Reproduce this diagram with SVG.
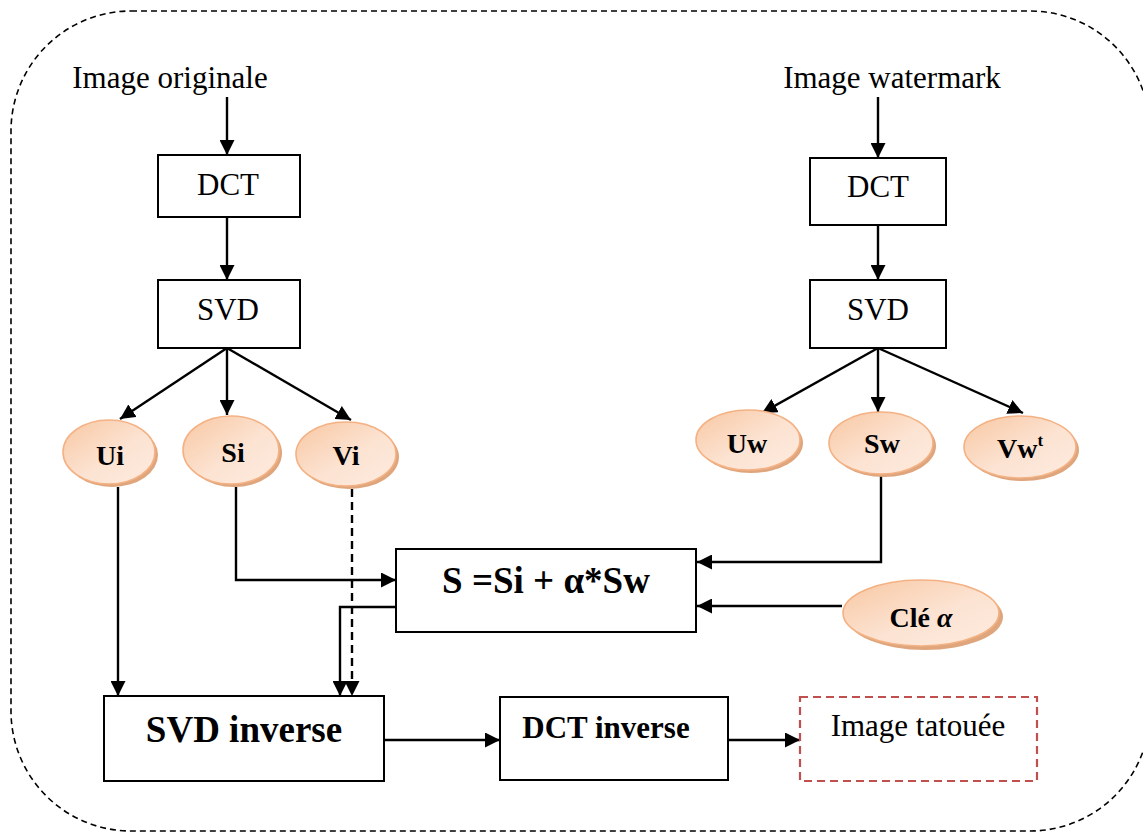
<svg xmlns="http://www.w3.org/2000/svg" width="1143" height="834" viewBox="0 0 1143 834">
<style>
text{font-family:"Liberation Serif","Times New Roman",serif;fill:#000}
.n{font-size:31px}
.b{font-weight:bold}
.box{fill:#fff;stroke:#000;stroke-width:2}
.ell{fill:url(#peach);stroke:#f4b183;stroke-width:1.6}
.sh{fill:#dfa67d}
.c{fill:none;stroke:#000;stroke-width:2.4}
</style>
<defs>
<linearGradient id="peach" x1="0" y1="0" x2="1" y2="1">
<stop offset="0" stop-color="#f8c7a2"/>
<stop offset="0.55" stop-color="#fce3d2"/>
<stop offset="1" stop-color="#fdebdf"/>
</linearGradient>
<marker id="ah" viewBox="0 0 10 10" refX="10" refY="5" markerWidth="15" markerHeight="15" markerUnits="userSpaceOnUse" orient="auto">
<path d="M0,0 L10,5 L0,10 z" fill="#000"/>
</marker>
</defs>
<rect x="11" y="11" width="1139" height="820" rx="120" ry="120" fill="none" stroke="#000" stroke-width="1.6" stroke-dasharray="6,4"/>

<g id="connectors">
<path class="c" d="M227,97 V155" marker-end="url(#ah)"/>
<path class="c" d="M227,217 V280" marker-end="url(#ah)"/>
<path class="c" d="M227,348 L120,419" marker-end="url(#ah)"/>
<path class="c" d="M227,348 V415" marker-end="url(#ah)"/>
<path class="c" d="M227,348 L351,420" marker-end="url(#ah)"/>
<path class="c" d="M878,97 V158" marker-end="url(#ah)"/>
<path class="c" d="M878,225 V280" marker-end="url(#ah)"/>
<path class="c" d="M878,348 L762,413" marker-end="url(#ah)"/>
<path class="c" d="M878,348 V412" marker-end="url(#ah)"/>
<path class="c" d="M878,348 L1023,413" marker-end="url(#ah)"/>
<path class="c" d="M118,487 V696" marker-end="url(#ah)"/>
<path class="c" d="M236,487 V580 H396" marker-end="url(#ah)"/>
<path class="c" d="M352,489 V696" stroke-dasharray="8,5" marker-end="url(#ah)"/>
<path class="c" d="M396,607 H340 V696" marker-end="url(#ah)"/>
<path class="c" d="M881,476 V562 H697" marker-end="url(#ah)"/>
<path class="c" d="M842,606 H697" marker-end="url(#ah)"/>
<path class="c" d="M384,740 H500" marker-end="url(#ah)"/>
<path class="c" d="M728,740 H800" marker-end="url(#ah)"/>
</g>

<g id="img-originale"><text class="n" x="170" y="88" text-anchor="middle">Image originale</text></g>
<g id="img-watermark"><text class="n" x="892" y="88" text-anchor="middle">Image watermark</text></g>

<g id="dct1"><rect class="box" x="158" y="155" width="142" height="62"/><text class="n" x="228" y="195" text-anchor="middle">DCT</text></g>
<g id="svd1"><rect class="box" x="158" y="280" width="142" height="68"/><text class="n" x="228" y="320" text-anchor="middle">SVD</text></g>
<g id="dct2"><rect class="box" x="810" y="158" width="136" height="67"/><text class="n" x="878" y="197" text-anchor="middle">DCT</text></g>
<g id="svd2"><rect class="box" x="810" y="280" width="136" height="68"/><text class="n" x="878" y="320" text-anchor="middle">SVD</text></g>

<g id="ui"><ellipse class="sh" cx="112" cy="455" rx="46" ry="32"/><ellipse class="ell" cx="109" cy="452" rx="46" ry="32"/><text class="b" font-size="28" x="110" y="465" text-anchor="middle">Ui</text></g>
<g id="si"><ellipse class="sh" cx="234" cy="453" rx="48" ry="34"/><ellipse class="ell" cx="231" cy="450" rx="48" ry="34"/><text class="b" font-size="28" x="233" y="462" text-anchor="middle">Si</text></g>
<g id="vi"><ellipse class="sh" cx="349" cy="457" rx="50" ry="32"/><ellipse class="ell" cx="346" cy="454" rx="50" ry="32"/><text class="b" font-size="28" x="346" y="465" text-anchor="middle">Vi</text></g>
<g id="uw"><ellipse class="sh" cx="751" cy="443" rx="52" ry="30"/><ellipse class="ell" cx="748" cy="440" rx="52" ry="30"/><text class="b" font-size="28" x="747" y="453" text-anchor="middle">Uw</text></g>
<g id="sw"><ellipse class="sh" cx="884" cy="446" rx="52" ry="31"/><ellipse class="ell" cx="881" cy="443" rx="52" ry="31"/><text class="b" font-size="28" x="882" y="453" text-anchor="middle">Sw</text></g>
<g id="vw"><ellipse class="sh" cx="1023" cy="450" rx="56" ry="31"/><ellipse class="ell" cx="1020" cy="447" rx="56" ry="31"/><text class="b" font-size="28" x="1020" y="458" text-anchor="middle">Vw<tspan font-size="17" dy="-12">t</tspan></text></g>
<g id="cle"><ellipse class="sh" cx="925" cy="617" rx="78" ry="33"/><ellipse class="ell" cx="921" cy="613" rx="78" ry="33"/><text class="b" font-size="28" x="921" y="627" text-anchor="middle">Clé <tspan font-style="italic">α</tspan></text></g>

<g id="formula"><rect class="box" x="396" y="549" width="300" height="83"/><text class="b" font-size="37" x="546" y="593" text-anchor="middle">S =Si + α*Sw</text></g>
<g id="svd-inv"><rect class="box" x="104" y="696" width="280" height="85"/><text class="b" font-size="37" x="244" y="742" text-anchor="middle">SVD inverse</text></g>
<g id="dct-inv"><rect class="box" x="500" y="697" width="228" height="83"/><text class="b" font-size="31" x="606" y="738" text-anchor="middle">DCT inverse</text></g>
<g id="img-tat"><rect x="800" y="697" width="237" height="84" fill="none" stroke="#c0504d" stroke-width="2.2" stroke-dasharray="8,5"/><text class="n" x="918" y="736" text-anchor="middle">Image tatouée</text></g>
</svg>
